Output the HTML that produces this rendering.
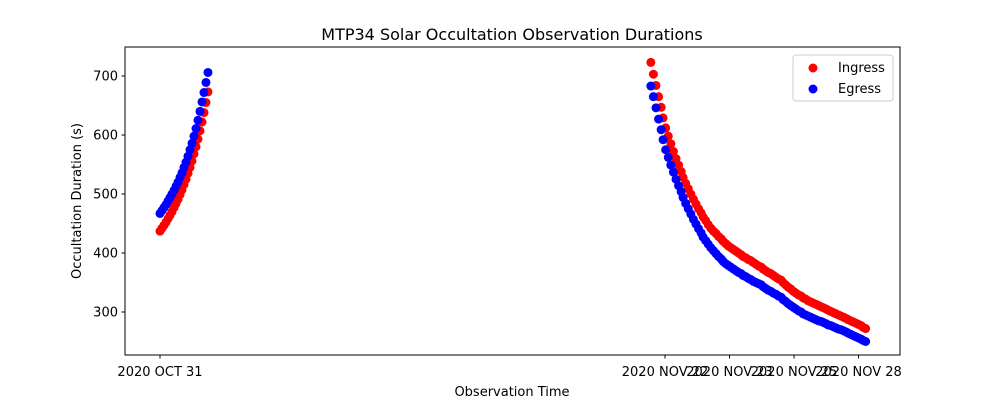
<!DOCTYPE html>
<html><head><meta charset="utf-8"><style>
body{margin:0;background:#fff;font-family:"Liberation Sans","DejaVu Sans",sans-serif}
svg text{font-family:"DejaVu Sans","Liberation Sans",sans-serif}
</style></head><body>
<svg id="chart" width="1000" height="400" xmlns="http://www.w3.org/2000/svg">
<rect width="1000" height="400" fill="#fff"/>
<text x="512" y="40" font-size="16" text-anchor="middle">MTP34 Solar Occultation Observation Durations</text>
<g id="plot"></g>
<rect x="125" y="47" width="775" height="308" fill="none" stroke="#000" stroke-width="1"/>
<text x="512" y="396" font-size="13" text-anchor="middle">Observation Time</text>
<text transform="translate(81,201) rotate(-90)" font-size="13" text-anchor="middle">Occultation Duration (s)</text>
<g>
<rect x="793" y="55" width="100" height="46" rx="3" fill="#fff" stroke="#ccc"/>
<circle cx="813" cy="68" r="4.5" fill="red"/>
<text x="838" y="72" font-size="13">Ingress</text>
<circle cx="813" cy="89" r="4.5" fill="blue"/>
<text x="838" y="93" font-size="13">Egress</text>
</g>
</svg>
<script>
const leftTimes=[0,0.031,0.062,0.093,0.124,0.155,0.186,0.217,0.248,0.279,0.310,0.341,0.372,0.403,0.434,0.465,0.496,0.527,0.558,0.589,0.620,0.651,0.682,0.713,0.744];
const leftIngress=[437,442,447,452,458,464,470,477,484,491,499,507,516,525,535,545,556,568,580,593,607,622,638,655,673];
const leftEgress=[467,472,477,482,488,494,500,506,513,520,528,536,545,554,564,575,586,598,611,625,640,656,672,689,706];
const rightTimes=[7.61,7.65,7.69,7.73,7.77,7.80,7.84,7.88,7.92,7.96,8.00,8.04,8.08,8.11,8.15,8.19,8.23,8.27,8.31,8.35,8.39,8.42,8.46,8.50,8.54,8.58,8.62,8.66,8.70,8.73,8.77,8.81,8.85,8.89,8.93,8.97,9.01,9.04,9.08,9.12,9.16,9.20,9.24,9.28,9.32,9.35,9.39,9.43,9.47,9.51,9.55,9.59,9.63,9.66,9.70,9.74,9.78,9.82,9.86,9.90,9.94,9.97,10.01,10.05,10.09,10.13,10.17,10.21,10.25,10.29,10.33,10.36,10.40,10.44,10.48,10.52,10.56,10.60,10.64,10.67,10.71,10.75,10.79,10.83,10.87,10.90,10.94];
const rightIngress=[723,703,684,665,647,629,612,598,585,572,560,549,538,528,518,509,500,491,483,475,468,461,455,448,442,437,433,428,424,420,416,412,409,406,403,400,397,394,392,389,387,384,381,378,376,373,370,367,365,362,359,356,354,350,346,342,339,335,332,329,327,324,322,319,317,315,313,311,309,307,305,303,301,299,297,295,293,291,289,287,285,283,281,279,277,274,272];
const rightEgress=[683,665,646,627,609,592,575,562,549,537,525,514,504,494,484,475,466,457,449,441,434,427,421,415,409,404,399,394,390,386,382,379,376,373,370,367,365,362,360,357,355,352,350,348,346,343,340,337,335,332,330,327,325,321,318,314,311,308,305,302,300,297,295,293,291,289,287,285,284,282,280,278,277,275,273,271,270,268,266,264,262,260,258,256,254,252,250];
const xTickVals=[0,7.83,8.83,9.83,10.83];
const xTickLabels=["2020 OCT 31","2020 NOV 22","2020 NOV 23","2020 NOV 25","2020 NOV 28"];
const yTickVals=[300,400,500,600,700];

const NS="http://www.w3.org/2000/svg";
const xs=t=>160+t*64.5;
const ys=v=>312-(v-300)*0.59;
const svg=document.getElementById('chart');
const plot=document.getElementById('plot');
function mk(tag,attrs,parent){const e=document.createElementNS(NS,tag);for(const k in attrs)e.setAttribute(k,attrs[k]);parent.appendChild(e);return e;}
function series(times,vals,color,name){
  times.forEach((t,i)=>{
    const c=mk('circle',{cx:xs(t),cy:ys(vals[i]),r:4.5,fill:color},plot);
    
    
  });
}
series(leftTimes,leftIngress,'red','ingress-point');
series(rightTimes,rightIngress,'red','ingress-point');
series(leftTimes,leftEgress,'blue','egress-point');
series(rightTimes,rightEgress,'blue','egress-point');
xTickVals.forEach((t,i)=>{
  const x=xs(t);
  const l=mk('line',{x1:x,x2:x,y1:355,y2:358.5,stroke:'#000'},svg);
  
  
  const tx=mk('text',{x:x,y:376,'font-size':13,'text-anchor':'middle'},svg);
  tx.textContent=xTickLabels[i];
  
  
});
yTickVals.forEach(v=>{
  const y=ys(v);
  const l=mk('line',{x1:121.5,x2:125,y1:y,y2:y,stroke:'#000'},svg);
  
  
  const tx=mk('text',{x:118,y:y+4.5,'font-size':13,'text-anchor':'end'},svg);
  tx.textContent=v;
  
  
});
</script>
</body></html>
